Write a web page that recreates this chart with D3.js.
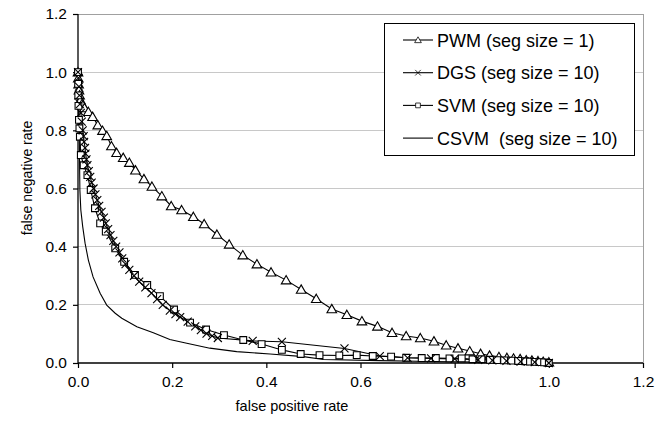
<!DOCTYPE html>
<html>
<head>
<meta charset="utf-8">
<script src="https://cdn.jsdelivr.net/npm/d3@7"></script>
<style>
  html, body { margin: 0; padding: 0; background: #fff; }
  svg text { font-family: "Liberation Sans", Arial, Helvetica, sans-serif; fill: #000; }
</style>
</head>
<body>
<svg id="chart" width="666" height="425"></svg>
<script>
// ---- data ----
const xTicks = [0, 0.2, 0.4, 0.6, 0.8, 1.0, 1.2];
const yTicks = [0, 0.2, 0.4, 0.6, 0.8, 1.0, 1.2];
const xTitle = "false positive rate";
const yTitle = "false negative rate";
const seriesNames = ["PWM (seg size = 1)", "DGS (seg size = 10)", "SVM (seg size = 10)", "CSVM  (seg size = 10)"];

const pwm = [
  [0,1.0],[0.0006,0.979],[0.0013,0.959],[0.002,0.938],[0.0034,0.921],[0.0053,0.904],[0.0085,0.891],
  [0.0138,0.877],[0.022,0.864],[0.031,0.847],[0.042,0.818],[0.052,0.799],[0.061,0.781],[0.071,0.746],
  [0.082,0.723],[0.096,0.706],[0.109,0.689],[0.122,0.663],[0.140,0.633],[0.157,0.607],[0.178,0.574],
  [0.198,0.540],[0.220,0.526],[0.245,0.503],[0.268,0.478],[0.295,0.442],[0.321,0.408],[0.350,0.371],
  [0.380,0.340],[0.410,0.312],[0.442,0.285],[0.474,0.253],[0.506,0.221],[0.539,0.186],[0.571,0.166],
  [0.603,0.144],[0.636,0.126],[0.667,0.104],[0.697,0.093],[0.727,0.086],[0.756,0.075],[0.782,0.061],
  [0.807,0.051],[0.832,0.041],[0.855,0.032],[0.874,0.026],[0.894,0.021],[0.911,0.018],[0.925,0.016],
  [0.939,0.014],[0.952,0.010],[0.964,0.009],[0.977,0.007],[0.988,0.005],[1.0,0.003]
];

const dgs = [
  [0,1.0],[0.001,0.98],[0.002,0.95],[0.003,0.92],[0.004,0.89],[0.006,0.86],[0.008,0.83],[0.010,0.80],
  [0.012,0.78],[0.013,0.76],[0.015,0.74],[0.016,0.72],[0.018,0.70],[0.020,0.68],[0.023,0.66],[0.026,0.64],
  [0.029,0.62],[0.033,0.60],[0.037,0.58],[0.041,0.56],[0.045,0.54],[0.050,0.52],[0.055,0.50],[0.059,0.48],
  [0.064,0.46],[0.069,0.44],[0.075,0.42],[0.081,0.40],[0.088,0.38],[0.094,0.36],[0.101,0.34],[0.109,0.32],
  [0.119,0.30],[0.130,0.28],[0.143,0.26],[0.156,0.24],[0.168,0.22],[0.180,0.20],[0.195,0.18],[0.207,0.168],
  [0.217,0.158],[0.233,0.142],[0.249,0.126],[0.261,0.113],[0.273,0.101],[0.285,0.093],[0.297,0.086],
  [0.371,0.076],[0.433,0.073],[0.566,0.050],[0.641,0.024],[0.700,0.018],[0.750,0.016],[0.800,0.014],
  [0.850,0.011],[0.880,0.009],[0.910,0.007],[0.940,0.005],[0.970,0.003],[1.0,0.0]
];

const svm = [
  [0,1.0],[0.0003,0.96],[0.0006,0.92],[0.001,0.884],[0.002,0.836],[0.003,0.807],[0.004,0.778],[0.006,0.715],
  [0.012,0.68],[0.020,0.646],[0.027,0.595],[0.036,0.532],[0.047,0.480],[0.059,0.452],[0.079,0.394],
  [0.098,0.348],[0.121,0.303],[0.147,0.268],[0.174,0.230],[0.204,0.184],[0.238,0.139],[0.272,0.115],
  [0.310,0.096],[0.351,0.079],[0.390,0.065],[0.433,0.045],[0.473,0.031],[0.513,0.027],[0.555,0.026],
  [0.592,0.027],[0.626,0.024],[0.665,0.022],[0.697,0.018],[0.730,0.017],[0.760,0.017],[0.789,0.016],
  [0.815,0.016],[0.838,0.013],[0.857,0.013],[0.875,0.011],[0.890,0.010],[0.905,0.009],[0.920,0.008],
  [0.935,0.007],[0.950,0.006],[0.960,0.005],[0.970,0.004],[0.980,0.003],[0.990,0.002],[1.0,0.0]
];

const csvm = [
  [0,1.0],[0.001,0.95],[0.002,0.85],[0.003,0.75],[0.0035,0.66],[0.004,0.595],[0.006,0.526],[0.010,0.469],
  [0.015,0.412],[0.022,0.354],[0.032,0.296],[0.047,0.240],[0.061,0.199],[0.079,0.171],[0.093,0.154],
  [0.125,0.125],[0.160,0.104],[0.195,0.081],[0.231,0.068],[0.280,0.051],[0.337,0.039],[0.408,0.031],
  [0.479,0.022],[0.521,0.012],[0.641,0.008],[0.750,0.005],[0.850,0.003],[1.0,0.0]
];

// ---- layout ----
const svg = d3.select("#chart");
const W = 666, H = 425;
const mLeft = 78, mRight = 643, mTop = 14, mBottom = 363;
const x = d3.scaleLinear().domain([0, 1.2]).range([mLeft, mRight]);
const y = d3.scaleLinear().domain([0, 1.2]).range([mBottom, mTop]);

svg.append("rect").attr("width", W).attr("height", H).attr("fill", "#fff");

// gridlines
svg.append("g").selectAll("line").data(yTicks.filter(d => d > 0)).join("line")
  .attr("x1", mLeft).attr("x2", mRight)
  .attr("y1", d => y(d)).attr("y2", d => y(d))
  .attr("stroke", "#c8c8c8").attr("stroke-width", 1).attr("shape-rendering", "crispEdges");

// plot area border (top / right)
svg.append("line").attr("x1", mRight).attr("x2", mRight).attr("y1", mTop).attr("y2", mBottom)
  .attr("stroke", "#a0a0a0").attr("shape-rendering", "crispEdges");
svg.append("line").attr("x1", mLeft).attr("x2", mRight).attr("y1", mTop).attr("y2", mTop)
  .attr("stroke", "#a0a0a0").attr("shape-rendering", "crispEdges");

// axes
const xAxis = d3.axisBottom(x).tickValues(xTicks).tickFormat(d3.format(".1f")).tickSize(5).tickPadding(8);
const yAxis = d3.axisLeft(y).tickValues(yTicks).tickFormat(d3.format(".1f")).tickSize(5).tickPadding(6);
const gx = svg.append("g").attr("transform", `translate(0,${mBottom})`).call(xAxis);
const gy = svg.append("g").attr("transform", `translate(${mLeft},0)`).call(yAxis);
[gx, gy].forEach(g => {
  g.selectAll("path.domain").attr("stroke", "#000").attr("stroke-width", 1.3);
  g.selectAll(".tick line").attr("stroke", "#000").attr("stroke-width", 1.2);
  g.selectAll("text").attr("font-size", "15.5px").attr("font-family", "Liberation Sans, Arial, sans-serif").attr("fill", "#000");
});
gx.selectAll("path.domain").attr("d", `M${mLeft},0H${mRight}`);
gy.selectAll("path.domain").attr("d", `M0,${mBottom}V${mTop}`);

// titles
svg.append("text").attr("x", 292).attr("y", 411).attr("text-anchor", "middle")
  .attr("font-size", "14.5px").text(xTitle);
svg.append("text").attr("transform", `translate(32,178) rotate(-90)`).attr("text-anchor", "middle")
  .attr("font-size", "14px").text(yTitle);

// lines
const line = d3.line().x(d => x(d[0])).y(d => y(d[1]));
const series = [
  { data: csvm, marker: null },
  { data: pwm, marker: "tri" },
  { data: svm, marker: "sq" },
  { data: dgs, marker: "x" }
];
const triPath = d3.symbol().type(d3.symbolTriangle).size(40)();
const sqPath = d3.symbol().type(d3.symbolSquare).size(46)();
const xPath = "M-4,-4L4,4M-4,4L4,-4";

function drawMarker(g, type) {
  if (type === "tri") g.append("path").attr("d", triPath).attr("transform", "translate(0,1)").attr("fill", "#fff").attr("stroke", "#000").attr("stroke-width", 1.1);
  else if (type === "sq") g.append("path").attr("d", sqPath).attr("fill", "#fff").attr("stroke", "#000").attr("stroke-width", 1.1);
  else if (type === "x") g.append("path").attr("d", xPath).attr("fill", "none").attr("stroke", "#000").attr("stroke-width", 1.1);
}

series.forEach(s => {
  svg.append("path").datum(s.data).attr("d", line).attr("fill", "none").attr("stroke", "#000").attr("stroke-width", 1.1);
});
series.forEach(s => {
  if (!s.marker) return;
  svg.append("g").selectAll("g").data(s.data).join("g")
    .attr("transform", d => `translate(${x(d[0])},${y(d[1])})`)
    .each(function() { drawMarker(d3.select(this), s.marker); });
});

// legend
const lg = svg.append("g");
lg.append("rect").attr("x", 384.5).attr("y", 23.5).attr("width", 250).attr("height", 132)
  .attr("fill", "#fff").attr("stroke", "#000").attr("stroke-width", 1);
const legendMarkers = ["tri", "x", "sq", null];
seriesNames.forEach((name, i) => {
  const cy = 40 + i * 32.7;
  const row = lg.append("g").attr("transform", `translate(0,${cy})`);
  row.append("line").attr("x1", 403).attr("x2", 433).attr("y1", 0).attr("y2", 0).attr("stroke", "#000").attr("stroke-width", 1.1);
  if (legendMarkers[i]) {
    const m = row.append("g").attr("transform", "translate(418,0) scale(0.7)");
    drawMarker(m, legendMarkers[i]);
  }
  row.append("text").attr("x", 437).attr("y", 6.5).attr("font-size", "18px")
    .style("white-space", "pre").text(name);
});
</script>
</body>
</html>
